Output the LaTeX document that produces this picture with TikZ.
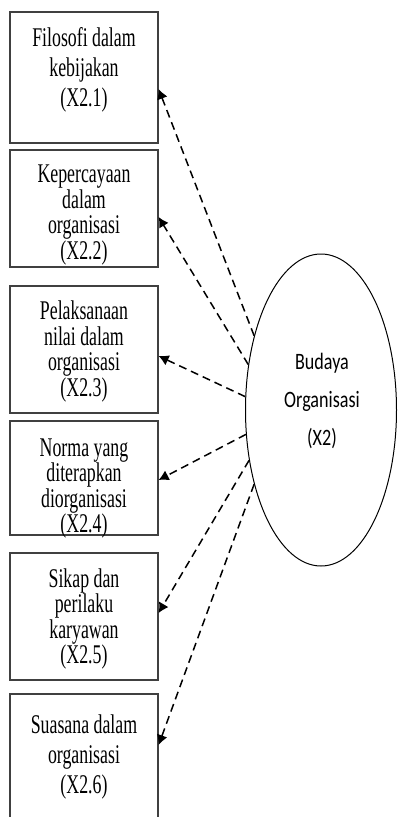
\documentclass[tikz,border=0pt]{standalone}
\usepackage{fontspec}
\usepackage{tikz}
\usetikzlibrary{shapes,arrows.meta,positioning}
\newfontfamily\serifsempit[FakeStretch=0.66]{Liberation Serif}
\newfontfamily\sanssempit[FakeStretch=0.77]{Carlito}
\newcommand{\hurufkotak}{\serifsempit\fontsize{27}{30}\selectfont}
\newcommand{\hurufrapat}{\serifsempit\fontsize{27}{25.5}\selectfont}
\newcommand{\hurufoval}{\sanssempit\fontsize{23.5}{38}\selectfont}
\tikzstyle{kotak} = [draw=black!75, line width=1.2pt, rectangle, minimum width=148pt, inner sep=0pt]
\tikzstyle{isi} = [font=\hurufkotak, align=center, inner sep=0pt]
\tikzstyle{laten} = [draw, ellipse, line width=1pt, minimum width=151pt, minimum height=312pt, inner sep=0pt]
\tikzstyle{panah} = [dash pattern=on 8pt off 5pt, line width=1.5pt, -{Latex[length=10pt,width=11pt]}]

\begin{document}
\begin{tikzpicture}[x=1pt,y=-1pt]
	\clip (0,0) rectangle (400,817);
	% indikator
	\node[kotak, minimum height=131pt] (x21) at (84,77.5) {};
	\node[kotak, minimum height=117pt] (x22) at (84,208.5) {};
	\node[kotak, minimum height=127pt] (x23) at (84,349.5) {};
	\node[kotak, minimum height=114pt] (x24) at (84,478) {};
	\node[kotak, minimum height=127pt] (x25) at (84,616.5) {};
	\node[kotak, minimum height=136pt] (x26) at (84,762) {};
	\node[isi] (t21) at (84,70) {Filosofi dalam\\kebijakan\\(X2.1)};
	\node[isi, font=\hurufrapat] (t22) at (84,215) {Kepercayaan\\dalam\\organisasi\\(X2.2)};
	\node[isi, font=\hurufrapat] (t23) at (84,351.5) {Pelaksanaan\\nilai dalam\\organisasi\\(X2.3)};
	\node[isi, font=\hurufrapat] (t24) at (84,488.5) {Norma yang\\diterapkan\\diorganisasi\\(X2.4)};
	\node[isi, font=\hurufrapat] (t25) at (84,619) {Sikap dan\\perilaku\\karyawan\\(X2.5)};
	\node[isi] (t26) at (84,757) {Suasana dalam\\organisasi\\(X2.6)};
	% variabel laten
	\node[laten] (org) at (321,410) {};
	\node[font=\hurufoval, align=center, inner sep=0pt] (torg) at (322,401) {Budaya\\Organisasi\\(X2)};
	% panah
	\draw[panah] (org.132.6) -- ([yshift=-11.5pt]x21.east);
	\draw[panah] (org.148.4) -- ([yshift=-8.5pt]x22.east);
	\draw[panah] (org.170.3) -- ([yshift=-6.5pt]x23.east);
	\draw[panah] (org.198.7) -- ([yshift=-2pt]x24.east);
	\draw[panah] (org.215.6) -- ([yshift=3.5pt]x25.east);
	\draw[panah] (org.228.9) -- ([yshift=17pt]x26.east);
\end{tikzpicture}
\end{document}
